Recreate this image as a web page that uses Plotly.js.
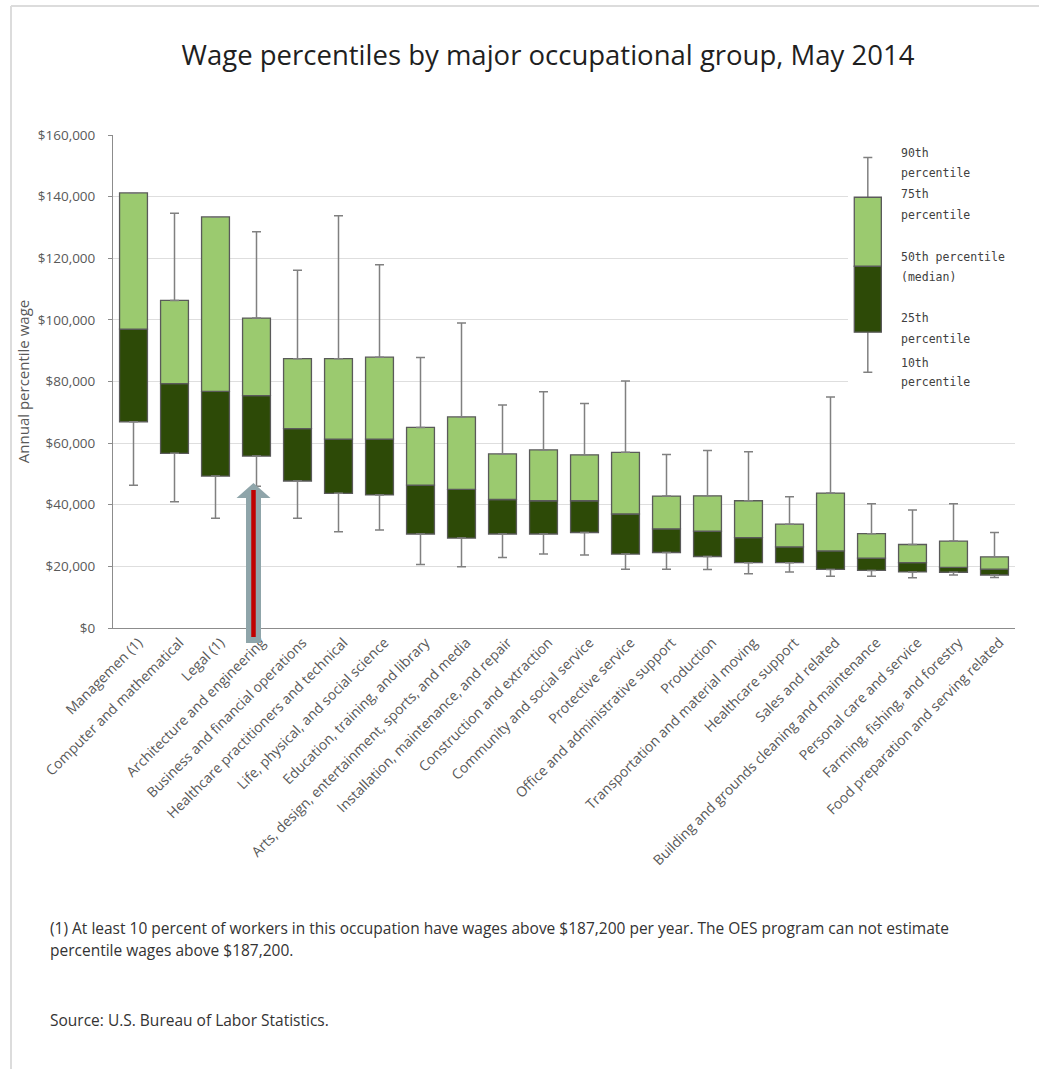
<!DOCTYPE html>
<html>
<head>
<meta charset="utf-8">
<script src="https://cdn.plot.ly/plotly-3.0.1.min.js"></script>
<style>
  html, body { margin: 0; padding: 0; background: #ffffff; }
  #chart { width: 1039px; height: 1069px; }
</style>
</head>
<body>
<div id="chart"></div>
<script>
// ---------- data (annual wages, US dollars) ----------
const categories = [
  "Managemen (1)",
  "Computer and mathematical",
  "Legal (1)",
  "Architecture and engineering",
  "Business and financial operations",
  "Healthcare practitioners and technical",
  "Life, physical, and social science",
  "Education, training, and library",
  "Arts, design, entertainment, sports, and media",
  "Installation, maintenance, and repair",
  "Construction and extraction",
  "Community and social service",
  "Protective service",
  "Office and administrative support",
  "Production",
  "Transportation and material moving",
  "Healthcare support",
  "Sales and related",
  "Building and grounds cleaning and maintenance",
  "Personal care and service",
  "Farming, fishing, and forestry",
  "Food preparation and serving related"
];
const p10 = [46300, 41000, 35600, 46000, 35600, 31200, 31800, 20600, 19900, 22900, 24000,
             23700, 19100, 19100, 19000, 17600, 18200, 16800, 16800, 16300, 17200, 16400];
const p25 = [66900, 56700, 49300, 55800, 47700, 43700, 43200, 30500, 29200, 30500, 30500,
             31000, 24000, 24500, 23200, 21200, 21200, 19000, 18700, 18200, 18100, 17200];
const p50 = [97000, 79300, 76800, 75400, 64700, 61300, 61300, 46400, 45000, 41700, 41300,
             41300, 37000, 32200, 31400, 29300, 26300, 25000, 22700, 21200, 19700, 19100];
const p75 = [141200, 106300, 133400, 100600, 87400, 87400, 87900, 65100, 68500, 56500, 57800,
             56200, 57000, 42800, 42900, 41300, 33700, 43800, 30600, 27100, 28200, 23100];
const p90 = [null, 134600, null, 128600, 116100, 133800, 117900, 87800, 99000, 72400, 76700,
             72900, 80200, 56300, 57600, 57200, 42600, 75000, 40300, 38300, 40300, 31000];

// key (explanation box) values: 10th, 25th, 50th, 75th, 90th
const keyValues = [83000, 96000, 117400, 139800, 152700];
const keyLabels = [
  ["10th", "percentile"],
  ["25th", "percentile"],
  ["50th percentile", "(median)"],
  ["75th", "percentile"],
  ["90th", "percentile"]
];

const yTickVals = [0, 20000, 40000, 60000, 80000, 100000, 120000, 140000, 160000];
const yTickText = ["$0", "$20,000", "$40,000", "$60,000", "$80,000", "$100,000",
                   "$120,000", "$140,000", "$160,000"];

const titleText = "Wage percentiles by major occupational group, May 2014";
const yTitle = "Annual percentile wage";
const footnote1 = "(1) At least 10 percent of workers in this occupation have wages above $187,200 per year. The OES program can not estimate";
const footnote2 = "percentile wages above $187,200.";
const sourceText = "Source: U.S. Bureau of Labor Statistics.";

// ---------- styles ----------
const DARK = "#2d4a07";
const LIGHT = "#9bca6f";
const BORDER = "#5a5a5a";
const WHISK = "#808080";
const W = 1039, H = 1069;
const M = { l: 113, r: 24, t: 135, b: 441 };
const plotW = W - M.l - M.r, plotH = H - M.t - M.b;
const fx = p => (p - M.l) / plotW;        // pixel -> paper x
const fy = p => (H - M.b - p) / plotH;    // pixel -> paper y

const lowerH = p50.map((v, i) => v - p25[i]);
const upperH = p75.map((v, i) => v - p50[i]);
const upWhisk = p90.map((v, i) => v == null ? null : v - p75[i]);
const loWhisk = p10.map((v, i) => p25[i] - v);
const zeros = categories.map(() => 0);

const traces = [
  {
    type: "bar", x: categories, y: lowerH, base: p25, width: 0.68,
    marker: { color: DARK, line: { color: BORDER, width: 1.3 } },
    hoverinfo: "skip", showlegend: false
  },
  {
    type: "bar", x: categories, y: upperH, base: p50, width: 0.68,
    marker: { color: LIGHT, line: { color: BORDER, width: 1.3 } },
    hoverinfo: "skip", showlegend: false
  },
  {
    type: "scatter", mode: "markers", x: categories, y: p75,
    marker: { size: 1, color: "rgba(0,0,0,0)" },
    error_y: { type: "data", symmetric: false, array: upWhisk, arrayminus: zeros,
               color: WHISK, thickness: 1.5, width: 4.5 },
    hoverinfo: "skip", showlegend: false
  },
  {
    type: "scatter", mode: "markers", x: categories, y: p25,
    marker: { size: 1, color: "rgba(0,0,0,0)" },
    error_y: { type: "data", symmetric: false, array: zeros, arrayminus: loWhisk,
               color: WHISK, thickness: 1.5, width: 4.5 },
    hoverinfo: "skip", showlegend: false
  }
];

// ---------- key (explanation) ----------
const kx = 17.91, kw = 0.33, kc = 0.11;
const shapes = [
  // outer frame lines
  { type: "line", xref: "paper", yref: "paper", x0: fx(11), x1: fx(W), y0: fy(6), y1: fy(6),
    line: { color: "#dcdcdc", width: 2 } },
  { type: "line", xref: "paper", yref: "paper", x0: fx(11), x1: fx(11), y0: fy(6), y1: fy(H),
    line: { color: "#dcdcdc", width: 2 } },
  // white panel behind the key
  { type: "rect", xref: "paper", yref: "paper", x0: fx(848), x1: 1, y0: fy(140), y1: fy(396),
    fillcolor: "#ffffff", line: { width: 0 }, layer: "above" },
  // key whisker
  { type: "line", xref: "x", yref: "y", x0: kx, x1: kx, y0: keyValues[0], y1: keyValues[4],
    line: { color: WHISK, width: 1.5 }, layer: "above" },
  { type: "line", xref: "x", yref: "y", x0: kx - kc, x1: kx + kc, y0: keyValues[0], y1: keyValues[0],
    line: { color: WHISK, width: 1.5 }, layer: "above" },
  { type: "line", xref: "x", yref: "y", x0: kx - kc, x1: kx + kc, y0: keyValues[4], y1: keyValues[4],
    line: { color: WHISK, width: 1.5 }, layer: "above" },
  // key box
  { type: "rect", xref: "x", yref: "y", x0: kx - kw, x1: kx + kw, y0: keyValues[1], y1: keyValues[2],
    fillcolor: DARK, line: { color: BORDER, width: 1.3 }, layer: "above" },
  { type: "rect", xref: "x", yref: "y", x0: kx - kw, x1: kx + kw, y0: keyValues[2], y1: keyValues[3],
    fillcolor: LIGHT, line: { color: BORDER, width: 1.3 }, layer: "above" },
  // highlight arrow
  { type: "path", xref: "paper", yref: "paper", layer: "above",
    path: "M " + fx(253.5) + " " + fy(483) +
          " L " + fx(270.5) + " " + fy(498) +
          " L " + fx(261) + " " + fy(498) +
          " L " + fx(261) + " " + fy(643) +
          " L " + fx(246) + " " + fy(643) +
          " L " + fx(246) + " " + fy(498) +
          " L " + fx(236.5) + " " + fy(498) + " Z",
    fillcolor: "#8fa5aa", line: { width: 0 } },
  { type: "line", xref: "paper", yref: "paper", layer: "above",
    x0: fx(253.5), x1: fx(253.5), y0: fy(490), y1: fy(637),
    line: { color: "#c00000", width: 4.5 } }
];

const keyY = [[363, 382], [318, 339], [257, 277], [194, 215], [153, 173]];
const annotations = [];
keyLabels.forEach((pair, i) => {
  pair.forEach((t, j) => {
    annotations.push({
      xref: "paper", yref: "paper", x: fx(899), y: fy(keyY[i][j]),
      xanchor: "left", yanchor: "middle", showarrow: false, text: t,
      font: { family: "DejaVu Sans Mono", size: 11.5, color: "#404040" }
    });
  });
});
annotations.push(
  { xref: "paper", yref: "paper", x: fx(48), y: fy(928), xanchor: "left", yanchor: "middle",
    showarrow: false, text: footnote1, font: { family: "Open Sans", size: 15.5, color: "#333333" } },
  { xref: "paper", yref: "paper", x: fx(48), y: fy(950), xanchor: "left", yanchor: "middle",
    showarrow: false, text: footnote2, font: { family: "Open Sans", size: 15.5, color: "#333333" } },
  { xref: "paper", yref: "paper", x: fx(48), y: fy(1020), xanchor: "left", yanchor: "middle",
    showarrow: false, text: sourceText, font: { family: "Open Sans", size: 15.5, color: "#333333" } }
);

const layout = {
  width: W, height: H,
  margin: M,
  paper_bgcolor: "#ffffff", plot_bgcolor: "#ffffff",
  font: { family: "Open Sans", color: "#595959" },
  title: {
    text: titleText, x: 548 / W, xanchor: "center", xref: "container",
    y: 1 - 55 / H, yanchor: "middle", yref: "container",
    font: { family: "Open Sans", size: 27.5, color: "#1f1f1f" }
  },
  barmode: "overlay",
  showlegend: false,
  xaxis: {
    type: "category", range: [-0.5, categories.length - 0.5],
    showline: true, linecolor: "#8c8c8c", linewidth: 1,
    showgrid: false, ticks: "", tickangle: -45,
    ticklabelshift: 5,
    tickfont: { family: "Open Sans", size: 14, color: "#595959" },
    fixedrange: true
  },
  yaxis: {
    range: [0, 160000], tickmode: "array", tickvals: yTickVals, ticktext: yTickText,
    showline: true, linecolor: "#8c8c8c", linewidth: 1,
    ticks: "outside", ticklen: 4, tickcolor: "#8c8c8c",
    ticklabelstandoff: 10,
    gridcolor: "#dedede", gridwidth: 1, zeroline: false,
    tickfont: { family: "Open Sans", size: 13.5, color: "#595959" },
    title: { text: yTitle, standoff: 4, font: { family: "Open Sans", size: 15, color: "#595959" } },
    fixedrange: true
  },
  shapes: shapes,
  annotations: annotations
};

Plotly.newPlot("chart", traces, layout, { displayModeBar: false, staticPlot: true });
</script>
</body>
</html>
